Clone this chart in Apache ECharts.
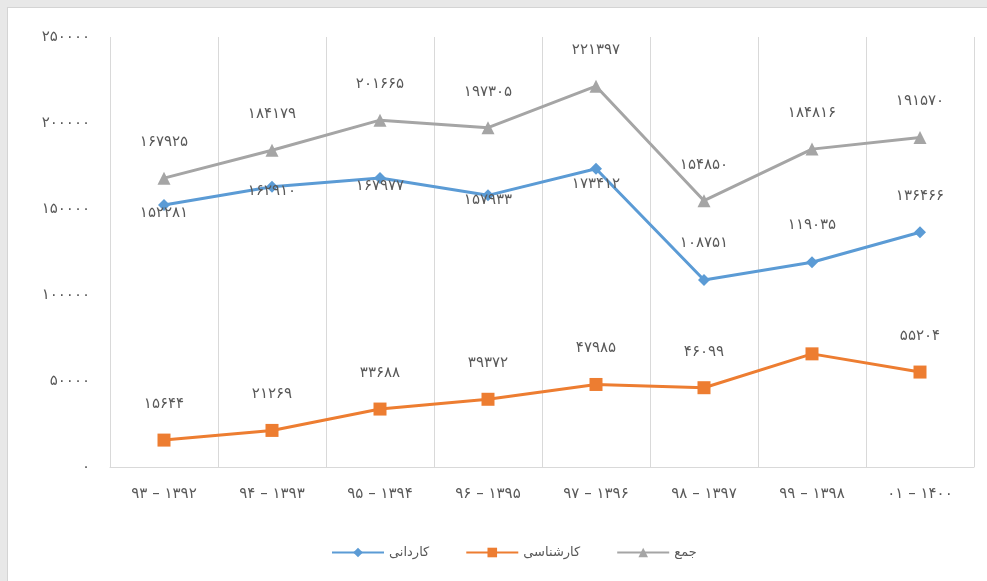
<!DOCTYPE html>
<html>
<head>
<meta charset="utf-8">
<script src="https://cdn.jsdelivr.net/npm/echarts@6/dist/echarts.min.js"></script>
<style>
  html, body { margin: 0; padding: 0; background: #fff; }
  #wrap {
    position: absolute; left: 0; top: 0; width: 987px; height: 581px;
    box-sizing: border-box; border-top: 7px solid #e8e8e8; border-left: 7px solid #e8e8e8;
  }
  #chart { width: 100%; height: 100%; border-top: 1px solid #d4d4d4; border-left: 1px solid #d4d4d4; box-sizing: border-box; }
</style>
</head>
<body>
<div id="wrap"><div id="chart"></div></div>
<script>
// سال‌های تحصیلی
var categories = ['۹۳ – ۱۳۹۲', '۹۴ – ۱۳۹۳', '۹۵ – ۱۳۹۴', '۹۶ – ۱۳۹۵', '۹۷ – ۱۳۹۶', '۹۸ – ۱۳۹۷', '۹۹ – ۱۳۹۸', '۰۱ – ۱۴۰۰']
var kardani = [152281, 162910, 167977, 157933, 173412, 108751, 119035, 136466]
var karshenasi = [15644, 21269, 33688, 39372, 47985, 46099, 65781, 55204]
var jam = [167925, 184179, 201665, 197305, 221397, 154850, 184816, 191570]
var yTicks = [0, 50000, 100000, 150000, 200000, 250000]
// label offsets for kardani points (Excel put the first ones on the line)
var kardaniLabelDy = [8, 4, 8, 5, 15, -37, -37, -36]
var hideKarshenasiLabel = [false, false, false, false, false, false, true, false]

var fa = '۰۱۲۳۴۵۶۷۸۹'
function toFa (n) {
  return String(n).replace(/[0-9]/g, function (d) { return fa[+d] })
}

var font = 'DejaVu Sans'
var textColor = '#595959'

function labelData (values, dys, hide) {
  return values.map(function (v, i) {
    return {
      value: v,
      label: {
        show: !(hide && hide[i]),
        position: 'inside',
        offset: [0, dys ? dys[i] : -36]
      }
    }
  })
}

var myChart = echarts.init(document.getElementById('chart'))
var option = {
  animation: false,
  textStyle: { fontFamily: font },
  grid: {
    left: 102,
    right: 13,
    top: 29,
    bottom: 114,
    containLabel: false
  },
  legend: {
    left: 318,
    top: 533,
    itemWidth: 52,
    itemHeight: 12,
    itemGap: 36,
    textStyle: { color: textColor, fontSize: 13, fontFamily: font },
    data: ['کاردانی', 'کارشناسی', 'جمع']
  },
  xAxis: {
    type: 'category',
    boundaryGap: true,
    data: categories,
    axisTick: { show: false },
    axisLine: { show: true, lineStyle: { color: '#d9d9d9', width: 1 } },
    splitLine: { show: true, lineStyle: { color: '#d9d9d9', width: 1 } },
    axisLabel: { color: textColor, fontSize: 15, margin: 20, interval: 0 }
  },
  yAxis: {
    type: 'value',
    min: 0,
    max: 250000,
    interval: 50000,
    axisLine: { show: false },
    axisTick: { show: false },
    splitLine: { show: false },
    axisLabel: {
      color: textColor,
      fontSize: 15,
      margin: 20,
      formatter: function (v) { return yTicks.indexOf(v) >= 0 ? toFa(v) : '' }
    }
  },
  series: [{
    name: 'کاردانی',
    type: 'line',
    symbol: 'diamond',
    symbolSize: 12,
    lineStyle: { width: 3, color: '#5b9bd5' },
    itemStyle: { color: '#5b9bd5' },
    label: { color: textColor, fontSize: 15, formatter: function (p) { return toFa(p.value) } },
    data: labelData(kardani, kardaniLabelDy),
    z: 3
  }, {
    name: 'کارشناسی',
    type: 'line',
    symbol: 'rect',
    symbolSize: 13,
    lineStyle: { width: 3, color: '#ed7d31' },
    itemStyle: { color: '#ed7d31' },
    label: { color: textColor, fontSize: 15, formatter: function (p) { return toFa(p.value) } },
    data: labelData(karshenasi, null, hideKarshenasiLabel),
    z: 3
  }, {
    name: 'جمع',
    type: 'line',
    symbol: 'triangle',
    symbolSize: 13,
    lineStyle: { width: 3, color: '#a5a5a5' },
    itemStyle: { color: '#a5a5a5' },
    label: { color: textColor, fontSize: 15, formatter: function (p) { return toFa(p.value) } },
    data: labelData(jam),
    z: 2
  }]
}
myChart.setOption(option)
window.addEventListener('resize', function () {
  myChart.resize()
})
</script>
</body>
</html>
